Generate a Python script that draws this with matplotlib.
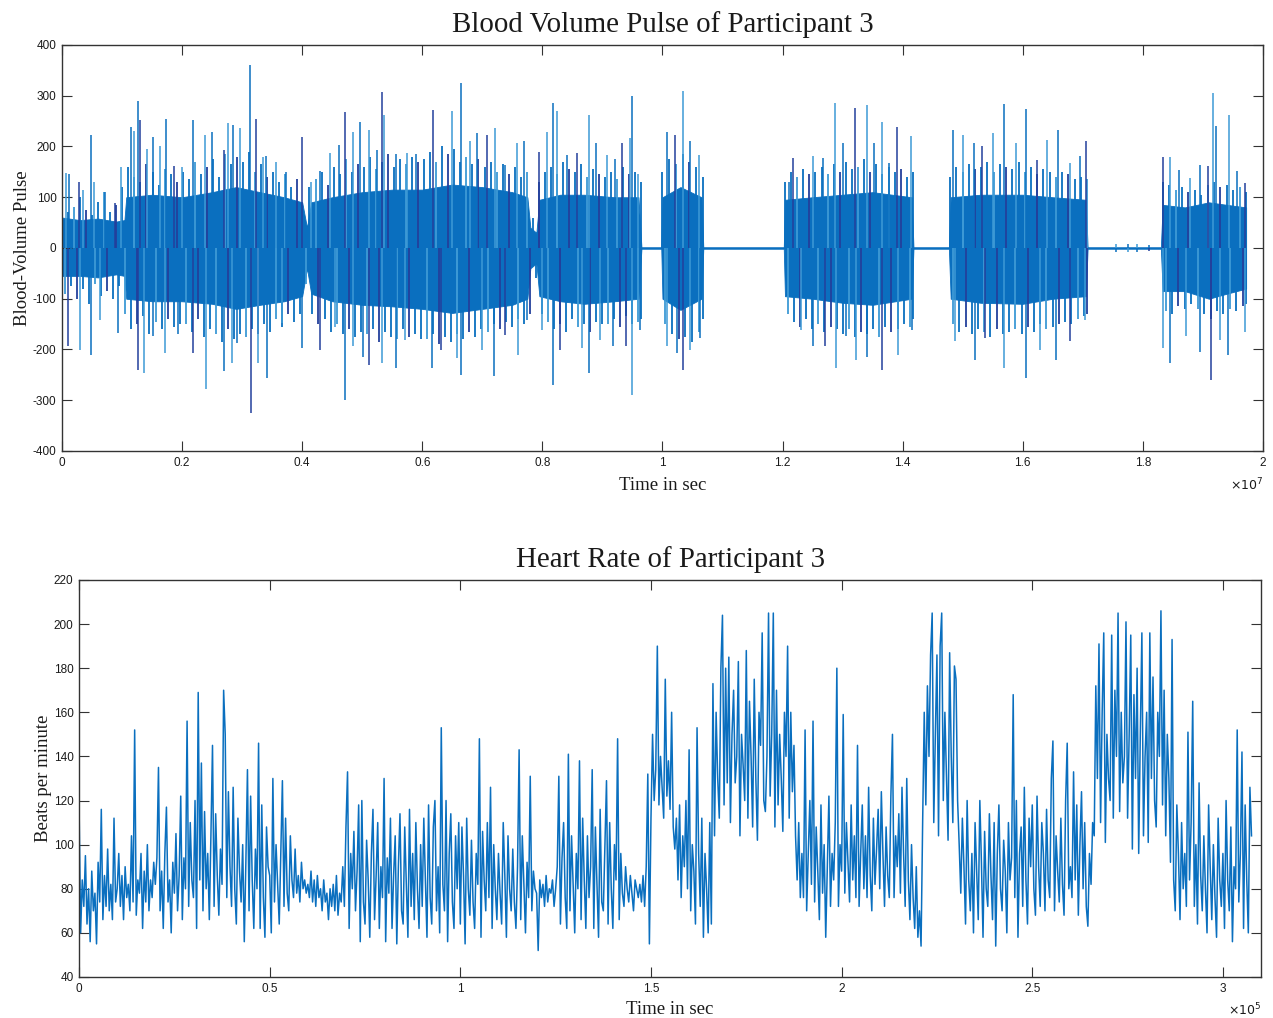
import numpy as np
import matplotlib
matplotlib.use("Agg")
import matplotlib.pyplot as plt

# ---------------- DATA ----------------
# Blood volume pulse: time axis in units of 1e7 s
bvp_core_t = [0.0, 0.03, 0.06, 0.09, 0.104, 0.107, 0.15, 0.2, 0.25, 0.29, 0.33, 0.37, 0.40,
              0.408, 0.415, 0.45, 0.5, 0.55, 0.6, 0.65, 0.7, 0.75, 0.775, 0.78, 0.79, 0.795,
              0.83, 0.87, 0.92, 0.96, 0.965, 0.998, 1.0, 1.03, 1.065, 1.068, 1.202, 1.204,
              1.25, 1.3, 1.35, 1.415, 1.418, 1.477, 1.48, 1.53, 1.6, 1.65, 1.705, 1.708,
              1.83, 1.833, 1.87, 1.91, 1.94, 1.972]
bvp_core_hi = [60, 55, 58, 52, 55, 100, 105, 100, 110, 120, 110, 100, 90,
               40, 90, 100, 110, 115, 115, 125, 120, 110, 100, 40, 30, 95,
               105, 105, 100, 100, 1.5, 1.5, 100, 120, 100, 1.5, 1.5, 95,
               100, 105, 110, 100, 1.5, 1.5, 100, 105, 105, 100, 95, 1.5,
               1.5, 85, 80, 90, 85, 80]
bvp_core_lo = [-55, -55, -58, -52, -55, -100, -105, -105, -110, -120, -112, -105, -95,
               -40, -90, -105, -112, -115, -120, -128, -120, -112, -100, -40, -30, -95,
               -105, -110, -105, -100, -1.5, -1.5, -100, -122, -100, -1.5, -1.5, -95,
               -100, -108, -112, -100, -1.5, -1.5, -100, -108, -110, -100, -95, -1.5,
               -1.5, -85, -85, -100, -90, -80]

# dense fringe of pulse tips for each recorded burst (start, end in 1e7 s)
bvp_burst_start = [0.0, 1.0, 1.204, 1.479, 1.833]
bvp_burst_end = [0.965, 1.067, 1.417, 1.707, 1.972]
bvp_fringe_up = [
    [95, 70, 80, 100, 75, 65, 90, 110, 70, 85,
     120, 160, 140, 130, 165, 150, 125, 155, 145, 130,
     150, 135, 170, 145, 160, 175, 140, 185, 165, 180,
     170, 190, 150, 165, 140, 150, 130, 145, 120, 135,
     70, 120, 135, 150, 125, 160, 145, 175, 150, 165,
     160, 180, 155, 170, 185, 160, 175, 165, 180, 170,
     175, 190, 170, 200, 185, 195, 170, 180, 165, 175,
     160, 170, 150, 165, 145, 160, 140, 150, 60, 130,
     150, 160, 145, 170, 155, 150, 165, 140, 155, 145,
     140, 150, 135, 160, 145, 150, 130],
    [150, 175, 165, 185, 170, 160, 140],
    [130, 150, 140, 155, 145, 150, 160, 145, 165, 150, 170, 155, 160, 175, 150, 165,
     145, 160, 150, 155, 140, 150],
    [140, 160, 150, 165, 155, 160, 170, 150, 165, 160, 155, 170, 150, 160, 145, 155,
     150, 140, 150, 145, 135, 140, 135],
    [130, 125, 115, 120, 110, 115, 105, 125, 130, 120, 125, 115, 120, 110],
]
bvp_fringe_dn = [
    [-90, -75, -100, -80, -110, -70, -95, -85, -100, -75,
     -130, -160, -150, -135, -170, -145, -160, -140, -155, -150,
     -150, -165, -140, -175, -160, -170, -185, -160, -180, -170,
     -175, -160, -170, -150, -165, -140, -155, -130, -145, -130,
     -70, -130, -150, -140, -165, -150, -170, -160, -175, -165,
     -170, -160, -185, -165, -175, -180, -160, -175, -170, -180,
     -180, -170, -190, -175, -185, -170, -180, -165, -175, -160,
     -165, -150, -160, -145, -155, -140, -150, -130, -60, -130,
     -145, -160, -150, -165, -140, -155, -150, -165, -145, -150,
     -150, -140, -155, -135, -150, -145, -140],
    [-150, -170, -180, -175, -185, -165, -140],
    [-130, -145, -155, -140, -160, -150, -165, -155, -160, -170, -160, -175, -165, -170,
     -160, -175, -155, -165, -160, -150, -155, -140],
    [-150, -165, -155, -170, -160, -165, -175, -160, -170, -165, -160, -170, -155, -165,
     -150, -160, -155, -150, -145, -150, -140, -135, -130],
    [-125, -130, -115, -120, -110, -120, -130, -140, -125, -130, -120, -125, -115, -110],
]

bvp_pos_t = [0.006, 0.0115, 0.028, 0.035, 0.049, 0.053, 0.071, 0.088, 0.099, 0.115, 0.12,
             0.127, 0.13, 0.141, 0.152, 0.163, 0.174, 0.186, 0.2, 0.219, 0.238, 0.249,
             0.269, 0.277, 0.285, 0.296, 0.313, 0.323, 0.335, 0.34, 0.357, 0.373, 0.399,
             0.415, 0.43, 0.446, 0.461, 0.471, 0.484, 0.496, 0.512, 0.524, 0.533, 0.536,
             0.557, 0.574, 0.59, 0.618, 0.649, 0.664, 0.68, 0.691, 0.707, 0.721, 0.738,
             0.758, 0.769, 0.794, 0.808, 0.817, 0.824, 0.841, 0.857, 0.878, 0.89, 0.907,
             0.921, 0.932, 0.946, 0.95, 0.96, 1.007, 1.021, 1.034, 1.046, 1.061,
             1.21, 1.218, 1.251, 1.268, 1.287, 1.3, 1.321, 1.34, 1.352, 1.365, 1.378,
             1.39, 1.414, 1.484, 1.501, 1.518, 1.532, 1.55, 1.569, 1.588, 1.605, 1.623,
             1.641, 1.658, 1.678, 1.695, 1.705, 1.755, 1.775, 1.79, 1.81, 1.833, 1.845,
             1.861, 1.878, 1.895, 1.908, 1.916, 1.921, 1.944, 1.957, 1.97]
bvp_pos_v = [147, 145, 131, 114, 222, 130, 110, 88, 160, 239, 231,
             289, 252, 196, 219, 200, 255, 162, 160, 252, 222, 229,
             193, 246, 243, 237, 360, 255, 180, 182, 170, 150, 219,
             130, 152, 188, 203, 267, 229, 249, 233, 193, 308, 262,
             185, 188, 186, 272, 270, 326, 211, 227, 223, 236, 164,
             207, 210, 190, 229, 286, 269, 184, 187, 262, 207, 184,
             175, 207, 217, 300, 145, 229, 223, 309, 210, 184,
             131, 178, 182, 178, 285, 207, 275, 282, 207, 249, 168,
             239, 220, 232, 223, 207, 200, 227, 284, 207, 273, 174,
             213, 232, 168, 181, 210, 8, 7, 8, 6, 180, 180,
             154, 138, 164, 161, 305, 240, 262, 151, 128]

bvp_neg_t = [0.01, 0.03, 0.049, 0.063, 0.094, 0.127, 0.137, 0.152, 0.171, 0.194, 0.219,
             0.239, 0.269, 0.283, 0.291, 0.314, 0.327, 0.342, 0.367, 0.399, 0.43, 0.454,
             0.472, 0.485, 0.502, 0.511, 0.533, 0.557, 0.571, 0.616, 0.632, 0.657, 0.664,
             0.7, 0.719, 0.738, 0.76, 0.774, 0.8, 0.817, 0.829, 0.866, 0.878, 0.896,
             0.918, 0.94, 0.95, 0.963, 1.007, 1.024, 1.034, 1.046, 1.063,
             1.23, 1.251, 1.27, 1.289, 1.305, 1.323, 1.34, 1.365, 1.393, 1.415,
             1.487, 1.52, 1.537, 1.569, 1.605, 1.629, 1.656, 1.678, 1.703,
             1.755, 1.775, 1.79, 1.81, 1.834, 1.845, 1.872, 1.895, 1.914, 1.928, 1.942, 1.97]
bvp_neg_v = [-194, -201, -211, -141, -167, -240, -246, -174, -207, -170, -207,
             -277, -243, -226, -187, -326, -226, -256, -148, -197, -201, -155,
             -300, -194, -214, -230, -226, -236, -181, -237, -201, -217, -250,
             -201, -253, -171, -211, -141, -161, -270, -201, -197, -246, -181,
             -194, -194, -289, -161, -194, -207, -240, -201, -178,
             -161, -194, -194, -237, -174, -220, -214, -240, -211, -161,
             -184, -220, -178, -237, -256, -201, -220, -184, -141,
             -8, -7, -8, -6, -197, -227, -174, -204, -260, -181, -210, -165]

# Heart rate: one sample every 1/24 of 0.1e5 s (time in units of 1e5 s)
hr_step = 0.1 / 24
hr_bpm = [
    118, 60, 84, 72, 95, 64, 80, 56, 88, 70, 78, 55, 92, 74, 116, 66, 86, 72, 98, 70, 82, 66, 112, 74,
    80, 96, 72, 86, 66, 90, 76, 82, 70, 104, 74, 152, 68, 84, 78, 96, 62, 88, 74, 100, 70, 84, 76, 92,
    82, 94, 135, 70, 88, 62, 96, 117, 74, 84, 60, 92, 78, 105, 70, 86, 122, 66, 94, 80, 156, 72, 110, 84,
    76, 120, 62, 169, 84, 137, 70, 115, 80, 96, 66, 104, 145, 72, 114, 86, 68, 98, 82, 170, 150, 76, 124, 90,
    72, 126, 80, 64, 112, 88, 74, 100, 56, 92, 134, 70, 122, 84, 62, 98, 80, 146, 62, 118, 76, 58, 108, 90,
    86, 60, 130, 74, 100, 82, 64, 96, 129, 72, 112, 78, 70, 104, 84, 76, 98, 78, 86, 74, 92, 80, 84, 78,
    82, 76, 88, 74, 84, 72, 86, 76, 80, 70, 84, 74, 78, 66, 80, 72, 82, 70, 86, 68, 78, 74, 90, 72,
    108, 133, 62, 96, 80, 106, 70, 88, 118, 56, 120, 74, 64, 102, 84, 58, 96, 116, 66, 86, 110, 62, 90, 76,
    130, 56, 94, 78, 112, 62, 86, 104, 55, 90, 114, 70, 64, 108, 82, 58, 116, 72, 96, 66, 110, 80, 62, 100,
    72, 112, 84, 58, 118, 76, 64, 108, 120, 70, 90, 60, 153, 82, 70, 120, 56, 96, 114, 74, 62, 104, 80, 110,
    64, 108, 86, 55, 112, 80, 68, 102, 74, 62, 96, 82, 148, 58, 106, 84, 70, 110, 76, 126, 62, 100, 80, 66,
    96, 78, 64, 110, 86, 58, 104, 80, 70, 98, 74, 62, 90, 143, 66, 104, 82, 60, 92, 76, 131, 70, 88, 80,
    78, 52, 84, 76, 82, 72, 86, 74, 80, 78, 84, 72, 80, 90, 131, 64, 94, 110, 76, 62, 141, 70, 104, 82,
    60, 96, 80, 138, 66, 112, 84, 62, 104, 76, 90, 134, 62, 108, 82, 58, 116, 74, 70, 100, 129, 64, 110, 80,
    62, 100, 84, 148, 66, 96, 78, 72, 90, 80, 74, 86, 78, 70, 84, 80, 76, 82, 74, 86, 72, 90, 132, 55,
    112, 150, 120, 134, 190, 118, 140, 126, 112, 175, 122, 138, 116, 160, 108, 98, 112, 84, 118, 76, 104, 90, 120, 80,
    143, 70, 100, 88, 64, 153, 96, 72, 112, 58, 96, 80, 60, 110, 64, 173, 104, 160, 130, 112, 180, 204, 118, 180,
    128, 185, 110, 150, 170, 128, 140, 183, 104, 150, 136, 120, 188, 112, 165, 140, 108, 175, 130, 102, 160, 145, 196, 120,
    115, 140, 205, 122, 150, 205, 108, 170, 118, 150, 130, 106, 160, 140, 190, 112, 160, 124, 145, 104, 84, 110, 76, 96,
    76, 152, 70, 96, 120, 82, 156, 74, 108, 88, 66, 118, 78, 100, 58, 90, 122, 72, 96, 84, 110, 180, 72, 100,
    88, 159, 78, 110, 92, 74, 118, 84, 104, 76, 145, 72, 96, 118, 80, 104, 76, 126, 86, 70, 112, 82, 98, 116,
    80, 124, 96, 72, 108, 86, 76, 122, 150, 76, 104, 90, 114, 78, 126, 96, 72, 130, 84, 66, 100, 76, 62, 90,
    58, 70, 54, 110, 160, 118, 172, 140, 186, 205, 110, 150, 186, 104, 190, 205, 120, 160, 130, 102, 187, 140, 110, 181,
    175, 120, 100, 78, 112, 90, 64, 120, 84, 70, 96, 60, 110, 88, 66, 120, 92, 58, 106, 80, 72, 114, 86, 66,
    110, 54, 96, 118, 80, 70, 102, 88, 60, 110, 84, 94, 168, 76, 120, 58, 96, 108, 72, 126, 84, 64, 112, 90,
    118, 80, 68, 122, 90, 72, 110, 96, 70, 116, 84, 76, 130, 147, 70, 104, 88, 74, 112, 82, 68, 120, 146, 80,
    90, 76, 133, 84, 118, 68, 100, 124, 80, 110, 72, 63, 96, 82, 110, 104, 172, 130, 191, 110, 160, 196, 101, 150,
    130, 120, 195, 112, 170, 140, 205, 115, 160, 128, 140, 201, 112, 150, 195, 98, 168, 130, 180, 96, 150, 196, 104, 140,
    160, 101, 196, 130, 176, 120, 108, 160, 140, 206, 118, 170, 104, 150, 130, 92, 193, 84, 70, 118, 96, 66, 110, 80,
    96, 72, 151, 84, 110, 165, 72, 100, 64, 128, 86, 70, 104, 80, 60, 118, 90, 66, 100, 76, 58, 112, 84, 72,
    96, 62, 120, 84, 70, 108, 56, 90, 80, 152, 74, 96, 142, 62, 118, 84, 60, 126, 104,
]

bvp_xticks = [0, 0.2, 0.4, 0.6, 0.8, 1, 1.2, 1.4, 1.6, 1.8, 2]
bvp_xticklabels = ["0", "0.2", "0.4", "0.6", "0.8", "1", "1.2", "1.4", "1.6", "1.8", "2"]
bvp_yticks = [-400, -300, -200, -100, 0, 100, 200, 300, 400]
hr_xticks = [0, 0.5, 1, 1.5, 2, 2.5, 3]
hr_xticklabels = ["0", "0.5", "1", "1.5", "2", "2.5", "3"]
hr_yticks = [40, 60, 80, 100, 120, 140, 160, 180, 200, 220]

# ---------------- STYLE ----------------
MAIN = "#0a6fbf"
LIGHT = "#3d9ad6"
DARK = "#23409c"
spike_cols = [LIGHT, MAIN, DARK, LIGHT, MAIN]
fringe_cols = [MAIN, MAIN, LIGHT, MAIN, DARK]
SERIF = ["Liberation Serif", "DejaVu Serif"]
SANS = ["Liberation Sans", "DejaVu Sans"]
TXT = "#1a1a1a"

fig = plt.figure(figsize=(12.73, 10.18), dpi=100)
ax1 = fig.add_axes([0.0487, 0.557, 0.9434, 0.3988])
ax2 = fig.add_axes([0.0621, 0.0403, 0.9285, 0.39])


def style_axes(ax):
    for s in ax.spines.values():
        s.set_linewidth(1.0)
        s.set_color("#333333")
    ax.tick_params(direction="in", length=7, width=0.8, top=True, right=True,
                   labelsize=8.5, colors="#333333", labelcolor=TXT, pad=4)
    for lab in ax.get_xticklabels() + ax.get_yticklabels():
        lab.set_family(SANS)


# ---- BVP ----
ax1.fill_between(bvp_core_t, bvp_core_lo, bvp_core_hi, color=MAIN, linewidth=0.6,
                 edgecolor=MAIN)
for s, e, up, dn in zip(bvp_burst_start, bvp_burst_end, bvp_fringe_up, bvp_fringe_dn):
    tu = np.linspace(s, e, len(up))
    cu = [fringe_cols[k % len(fringe_cols)] for k in range(len(up))]
    ax1.vlines(tu, 0, up, colors=cu, linewidth=1.3)
    td = np.clip(np.linspace(s, e, len(dn)) + (e - s) / (2 * len(dn)), s, e)
    cd = [fringe_cols[(k + 2) % len(fringe_cols)] for k in range(len(dn))]
    ax1.vlines(td, dn, 0, colors=cd, linewidth=1.3)
for i, (t, v) in enumerate(zip(bvp_pos_t, bvp_pos_v)):
    ax1.vlines(t, 0, v, color=spike_cols[i % len(spike_cols)], linewidth=1.1)
for i, (t, v) in enumerate(zip(bvp_neg_t, bvp_neg_v)):
    ax1.vlines(t, v, 0, color=spike_cols[(i + 2) % len(spike_cols)], linewidth=1.1)
ax1.set_xlim(0, 2)
ax1.set_ylim(-400, 400)
ax1.set_xticks(bvp_xticks)
ax1.set_xticklabels(bvp_xticklabels)
ax1.set_yticks(bvp_yticks)
ax1.set_yticklabels([str(v) for v in bvp_yticks])
style_axes(ax1)
ax1.set_title("Blood Volume Pulse of Participant 3", family=SERIF, fontsize=20.8,
              color=TXT, pad=9)
ax1.set_xlabel("Time in sec", family=SERIF, fontsize=13.5, color=TXT, labelpad=6)
ax1.set_ylabel("Blood-Volume Pulse", family=SERIF, fontsize=13.5, color=TXT, labelpad=1.5)
ax1.text(1.0, -0.084, r"$\times10^{7}$", transform=ax1.transAxes, ha="right", va="center",
         fontsize=9, color=TXT)

# ---- Heart rate ----
hr_t = np.arange(len(hr_bpm)) * hr_step
ax2.plot(hr_t, hr_bpm, color=MAIN, linewidth=1.1)
ax2.set_xlim(0, 3.1)
ax2.set_ylim(40, 220)
ax2.set_xticks(hr_xticks)
ax2.set_xticklabels(hr_xticklabels)
ax2.set_yticks(hr_yticks)
ax2.set_yticklabels([str(v) for v in hr_yticks])
style_axes(ax2)
ax2.set_title("Heart Rate of Participant 3", family=SERIF, fontsize=20.8, color=TXT, pad=9)
ax2.set_xlabel("Time in sec", family=SERIF, fontsize=13.5, color=TXT, labelpad=5)
ax2.set_ylabel("Beats per minute", family=SERIF, fontsize=13.5, color=TXT, labelpad=1.5)
ax2.text(1.0, -0.083, r"$\times10^{5}$", transform=ax2.transAxes, ha="right", va="center",
         fontsize=9, color=TXT)

fig.savefig("out.png", dpi=100, facecolor="white")
